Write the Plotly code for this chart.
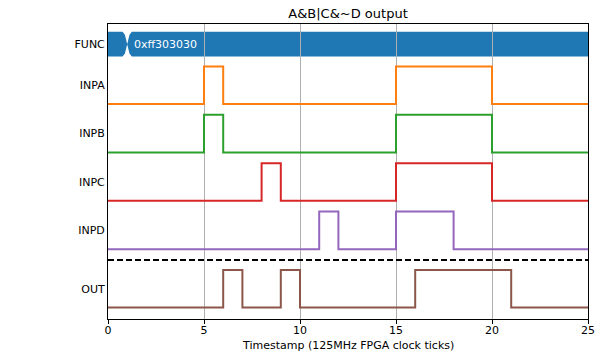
import plotly.graph_objects as go

# ---- data ----
signal_names = ["INPA", "INPB", "INPC", "INPD"]
inpa_t = [0, 5, 6, 15, 20, 25]
inpa_v = [0, 1, 0, 1, 0, 0]
inpb_t = [0, 5, 6, 15, 20, 25]
inpb_v = [0, 1, 0, 1, 0, 0]
inpc_t = [0, 8, 9, 15, 20, 25]
inpc_v = [0, 1, 0, 1, 0, 0]
inpd_t = [0, 11, 12, 15, 18, 25]
inpd_v = [0, 1, 0, 1, 0, 0]
out_t = [0, 6, 7, 9, 10, 16, 21, 25]
out_v = [0, 1, 0, 1, 0, 1, 0, 0]
func_t = [0, 1, 25]
func_labels = ["", "0xff303030"]
x_ticks = [0, 5, 10, 15, 20, 25]
title = "A&B|C&~D output"
xlabel = "Timestamp (125MHz FPGA clock ticks)"

# ---- layout constants ----
colors = ["#ff7f0e", "#2ca02c", "#d62728", "#9467bd"]
out_color = "#8c564b"
bus_color = "#1f77b4"
pitch = 48.4
amp = 37.6
first_base = 215
out_base = 11.5
sep_y = 59
bus_c = 274.8
bus_h = 12.4
notch = 0.24
font = "DejaVu Sans"

fig = go.Figure()

inputs = [(inpa_t, inpa_v), (inpb_t, inpb_v), (inpc_t, inpc_v), (inpd_t, inpd_v)]
tickvals = [bus_c]
ticktext = ["FUNC"]
for i, (t, v) in enumerate(inputs):
    base = first_base - i * pitch
    fig.add_trace(go.Scatter(x=t, y=[base + amp * s for s in v], mode="lines",
                             line=dict(color=colors[i], width=2, shape="hv"),
                             showlegend=False, hoverinfo="skip"))
    tickvals.append(base + amp / 2)
    ticktext.append(signal_names[i])

fig.add_trace(go.Scatter(x=out_t, y=[out_base + amp * s for s in out_v], mode="lines",
                         line=dict(color=out_color, width=2, shape="hv"),
                         showlegend=False, hoverinfo="skip"))
tickvals.append(out_base + amp / 2)
ticktext.append("OUT")

# separator
fig.add_trace(go.Scatter(x=[x_ticks[0], x_ticks[-1]], y=[sep_y, sep_y], mode="lines",
                         line=dict(color="black", width=1.8, dash="6px,3px"),
                         showlegend=False, hoverinfo="skip"))

# bus
shapes = []
annotations = []
top = bus_c + bus_h
bot = bus_c - bus_h
for k in range(len(func_t) - 1):
    a, b = func_t[k], func_t[k + 1]
    pts = []
    if k == 0:
        pts += [(a, top)]
        left_bot = (a, bot)
    else:
        pts += [(a, bus_c), (a + notch / 2, top - 3), (a + notch, top)]
        left_bot = (a + notch, bot)
    if k == len(func_t) - 2:
        pts += [(b, top), (b, bot)]
    else:
        pts += [(b - notch, top), (b - notch / 2, top - 3), (b, bus_c),
                (b - notch / 2, bot + 3), (b - notch, bot)]
    if k > 0:
        pts += [left_bot, (a + notch / 2, bot + 3)]
    else:
        pts += [left_bot]
    path = "M " + " L ".join(f"{x},{y}" for x, y in pts) + " Z"
    shapes.append(dict(type="path", path=path, xref="x", yref="y", layer="below",
                       fillcolor=bus_color, line=dict(width=0)))
    if func_labels[k]:
        annotations.append(dict(x=a + notch, y=bus_c, xref="x", yref="y", text=func_labels[k],
                                showarrow=False, xanchor="left", yanchor="middle",
                                font=dict(color="white", size=11, family=font)))

annotations.append(dict(x=0.5, y=0, xref="paper", yref="paper", yshift=-26, text=xlabel,
                        showarrow=False, xanchor="center", yanchor="middle",
                        font=dict(size=11, family=font, color="black")))

fig.update_layout(
    width=600, height=358,
    margin=dict(l=108, r=12, t=24, b=39),
    plot_bgcolor="white", paper_bgcolor="white",
    title=dict(text=title, x=0.5, xref="paper", xanchor="center", y=1 - 13 / 358,
               yanchor="middle", yref="container",
               font=dict(size=13, family=font, color="black")),
    shapes=shapes, annotations=annotations,
    font=dict(family=font, size=11, color="black"),
)
fig.update_xaxes(range=[x_ticks[0], x_ticks[-1]], tickvals=x_ticks, ticks="outside", ticklen=4,
                 tickcolor="black", showgrid=True, gridcolor="#b0b0b0", gridwidth=1,
                 showline=True, mirror=True, linecolor="black", linewidth=1, zeroline=False,
                 automargin=False, ticklabelstandoff=-3, tickfont=dict(size=11, family=font))
fig.update_yaxes(range=[0, 295], tickvals=tickvals, ticktext=ticktext, ticks="",
                 showgrid=False, showline=True, mirror=True, linecolor="black", linewidth=1,
                 zeroline=False, automargin=False, tickfont=dict(size=11, family=font))

fig.write_html("out.html", config={"displayModeBar": False},
               post_script="document.body.style.margin='0';document.body.style.overflow='hidden';")
